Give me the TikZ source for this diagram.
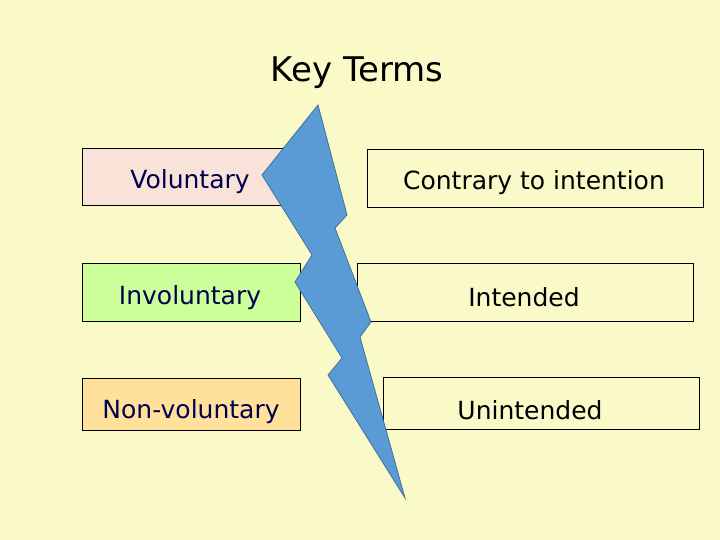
\documentclass[tikz,border=0pt]{standalone}
\usepackage{fontspec}
\setmainfont{DejaVu Sans}
\begin{document}
\begin{tikzpicture}[x=1pt,y=-1pt,
  box/.style={draw=black, line width=0.8pt, anchor=north west, inner sep=0pt},
  lab/.style={font=\fontsize{25}{28}\selectfont},
  llab/.style={lab, text=black!70!blue}]
\definecolor{bg}{HTML}{FAF9C8}
\definecolor{pinkf}{HTML}{F9E2D8}
\definecolor{greenf}{HTML}{CCFF99}
\definecolor{orangef}{HTML}{FFE19C}
\definecolor{bolt}{HTML}{5B9BD5}
\definecolor{boltd}{HTML}{41719C}
\fill[bg] (0,0) rectangle (720,540);
\useasboundingbox (0,0) rectangle (720,540);
\node[font=\fontsize{34}{38}\selectfont] (title) at (357,73) {Key Terms};
\node[box, fill=pinkf, minimum width=218pt, minimum height=57pt] (b1) at (82,148) {};
\node[box, fill=greenf, minimum width=218pt, minimum height=58pt] (b2) at (82,263) {};
\node[box, fill=orangef, minimum width=218pt, minimum height=52pt] (b3) at (82,378) {};
\node[box, fill=bg, minimum width=336pt, minimum height=58pt] (r1) at (367,149) {};
\node[box, fill=bg, minimum width=336pt, minimum height=58pt] (r2) at (357,263) {};
\node[box, fill=bg, minimum width=316pt, minimum height=52pt] (r3) at (383,377) {};
\node[llab] (t1) at (190,182) {Voluntary};
\node[llab] (t2) at (190,298) {Involuntary};
\node[llab] (t3) at (191,412) {Non-voluntary};
\node[lab] (u1) at (534,183) {Contrary to intention};
\node[lab] (u2) at (524,297) {Intended};
\node[lab] (u3) at (530,410) {Unintended};
\draw[fill=bolt, draw=boltd, line width=0.8pt, line join=miter]
 (318,105) -- (347,215) -- (335,228) -- (371,322) -- (360,337) -- (405,498)
 -- (328,375) -- (342,358) -- (295,282) -- (312,255) -- (262,175) -- cycle;
\end{tikzpicture}
\end{document}
